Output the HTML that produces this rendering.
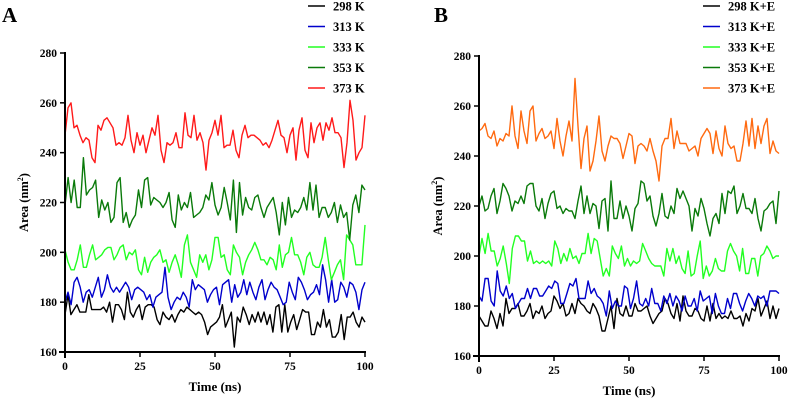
<!DOCTYPE html>
<html><head><meta charset="utf-8"><style>
body{margin:0;background:#fff;}
svg text{font-family:"Liberation Serif",serif;font-weight:bold;}
</style></head><body>
<svg id="chart" width="790" height="400"></svg>
<script>
const tickValsY=[160,180,200,220,240,260,280];
const tickValsX=[0,25,50,75,100];
const labelsA=["298 K","313 K","333 K","353 K","373 K"];
const labelsB=["298 K+E","313 K+E","333 K+E","353 K+E","373 K+E"];
const colorsA=["#000000","#0000cc","#22ff22","#0a7a0a","#ff1a1a"];
const colorsB=["#000000","#0000cc","#22ff22","#0a7a0a","#ff6a10"];
const a298=[175,183,175,177,179,176,176,176,183,177,177,177,177,178,176,180,172,179,179,177,173,184,176,174,177,179,173,178,179,179,178,173,171,176,174,173,175,172,175,177,176,178,177,176,175,176,175,172,167,170,171,172,174,179,170,173,176,162,174,172,178,175,171,175,172,176,172,176,171,175,168,178,179,168,179,168,172,175,169,173,177,176,176,167,167,172,170,177,170,173,166,166,168,175,165,174,174,176,172,170,174,172];
const a313=[180,184,179,188,190,186,180,184,185,182,186,190,182,185,191,186,184,186,184,186,188,186,181,185,186,185,184,181,183,178,182,183,184,194,182,177,180,182,181,184,182,178,189,185,187,186,185,180,183,185,186,179,187,188,189,180,187,182,184,189,183,188,184,181,186,189,181,185,188,186,185,182,179,180,188,184,181,190,188,185,181,183,184,187,183,195,189,180,189,180,181,188,186,182,188,187,184,177,185,188];
const a333=[201,196,193,193,197,203,194,194,199,203,197,198,199,201,202,202,197,199,202,203,197,200,199,201,193,191,198,192,196,198,199,201,196,197,192,196,199,195,190,203,207,196,193,190,199,196,199,193,197,206,206,198,199,193,191,203,200,198,191,196,199,201,204,201,197,197,195,198,197,193,203,194,199,200,206,199,199,196,191,198,200,195,194,194,198,206,197,189,192,195,197,189,207,205,203,195,195,195,211];
const a353=[219,230,220,229,218,218,238,223,225,226,229,214,221,217,220,212,214,228,230,212,216,210,213,215,225,218,229,230,219,222,221,220,218,220,224,213,210,223,217,220,218,224,214,215,216,218,223,221,228,219,215,218,226,220,213,229,208,228,215,222,218,217,222,223,218,214,218,220,222,216,207,220,211,222,214,217,216,218,222,217,228,217,227,214,218,218,214,216,220,212,219,214,216,205,219,223,216,227,225];
const a373=[247,258,260,250,251,247,244,246,245,238,236,251,249,253,254,252,250,243,244,243,246,255,245,240,248,243,247,240,245,250,247,255,241,236,244,243,244,248,242,242,256,247,246,255,245,248,244,233,245,248,253,247,255,242,243,243,249,241,238,247,251,246,247,247,246,245,243,244,242,245,249,253,247,246,240,247,250,237,249,254,241,238,252,244,250,252,245,252,249,254,248,248,246,234,244,261,253,237,240,242,255];
const b298=[176,174,172,172,178,175,171,177,172,183,177,179,179,181,176,176,178,181,175,178,177,180,175,177,178,184,182,179,181,176,177,181,177,183,181,180,178,177,181,179,176,170,170,175,180,171,183,177,176,180,176,176,181,178,178,179,180,176,173,175,177,178,183,181,177,175,181,174,184,178,176,176,179,178,175,174,180,174,181,175,177,175,176,175,178,175,175,176,172,177,174,179,178,183,176,179,182,175,180,175,179];
const b313=[184,182,191,191,182,180,194,186,184,188,183,185,179,181,183,183,187,183,187,187,184,184,186,188,187,190,189,181,181,185,189,188,191,183,183,183,190,185,187,184,183,181,176,186,179,182,180,180,188,187,179,183,190,181,180,183,180,187,181,181,178,184,181,185,180,184,182,178,184,180,180,183,178,186,182,183,184,177,185,180,177,177,183,179,185,185,181,178,182,185,183,180,184,183,184,180,186,186,186,185];
const b333=[200,207,201,209,202,202,196,199,204,197,189,203,208,208,206,206,198,202,197,198,197,198,197,198,196,206,203,197,201,198,203,199,200,197,201,201,209,201,207,206,199,192,195,192,204,201,199,204,196,199,196,198,197,198,205,202,199,197,196,196,196,192,203,198,203,197,200,195,193,202,192,193,200,206,191,196,192,194,199,195,194,194,202,205,202,200,194,203,193,193,199,199,192,200,201,204,202,199,200,200];
const b353=[220,224,218,219,224,227,217,222,229,227,224,218,222,221,224,221,228,229,229,220,218,223,215,221,225,226,219,220,217,219,218,218,215,222,228,217,224,217,221,220,211,222,223,210,230,215,215,222,215,220,216,210,219,221,230,229,222,224,216,212,217,225,216,215,220,217,227,223,226,223,220,210,219,216,223,219,213,208,215,217,213,225,217,226,225,228,217,220,225,219,219,217,223,215,210,218,219,221,222,213,226];
const b373=[250,251,253,248,247,250,244,247,246,249,248,260,248,243,258,250,245,258,260,246,249,251,247,248,250,243,255,246,240,248,254,246,271,252,235,247,252,234,238,246,256,242,238,244,248,247,247,245,239,244,249,248,237,244,245,244,242,247,242,238,230,244,247,247,255,243,250,245,245,245,242,243,244,240,247,249,251,249,241,250,243,240,252,245,243,244,238,238,245,254,244,255,243,252,245,252,255,241,246,242,241];

const NS="http://www.w3.org/2000/svg";
const svg=document.getElementById('chart');
function mk(tag,attrs,parent){const e=document.createElementNS(NS,tag);for(const k in attrs)e.setAttribute(k,attrs[k]);(parent||svg).appendChild(e);return e;}

function panel(p){
  const g=mk('g',{});
  
  
  const xs=v=>p.x0+(v/100)*(p.x1-p.x0);
  const ys=v=>p.y1-(v-160)/120*(p.y1-p.y0);
  // letter
  const L=mk('text',{x:p.lx,y:22,'font-size':21},g);L.textContent=p.id;
  
  
  // series
  p.series.forEach((s,k)=>{
    const n=s.length;
    const pts=s.map((v,i)=>xs(i*100/(n-1)).toFixed(1)+','+ys(v).toFixed(1)).join(' ');
    const pl=mk('polyline',{points:pts,fill:'none',stroke:p.colors[k],'stroke-width':1.4,'stroke-linejoin':'round'},g);
    
    
  });
  // axes
  const ya=mk('line',{x1:p.x0,y1:p.y0-1,x2:p.x0,y2:p.y1+6,stroke:'#000','stroke-width':2},g);
  
  
  const xa=mk('line',{x1:p.x0-6,y1:p.y1,x2:p.x1+1,y2:p.y1,stroke:'#000','stroke-width':2},g);
  
  
  tickValsY.forEach(v=>{
    mk('line',{x1:p.x0-5,y1:ys(v),x2:p.x0,y2:ys(v),stroke:'#000','stroke-width':1.5},g);
    const t=mk('text',{x:p.x0-8,y:ys(v)+4,'font-size':11.5,'text-anchor':'end'},g);t.textContent=v;
    
    
  });
  tickValsX.forEach(v=>{
    mk('line',{x1:xs(v),y1:p.y1,x2:xs(v),y2:p.y1+5,stroke:'#000','stroke-width':1.5},g);
    const t=mk('text',{x:xs(v),y:p.y1+18,'font-size':11.5,'text-anchor':'middle'},g);t.textContent=v;
    
    
  });
  const xt=mk('text',{x:(p.x0+p.x1)/2,y:p.y1+39,'font-size':13,'text-anchor':'middle'},g);xt.textContent='Time (ns)';
  
  
  const cy=(p.y0+p.y1)/2;
  const yt=mk('text',{x:p.x0-37,y:cy,'font-size':12.5,'text-anchor':'middle',transform:`rotate(-90 ${p.x0-37} ${cy})`},g);
  yt.innerHTML='Area (nm<tspan font-size="8" dy="-5">2</tspan><tspan dy="5">)</tspan>';
  
  
  // legend
  p.labels.forEach((lab,k)=>{
    const y=6+k*20.5;
    const e=mk('g',{},g);
    
    
    mk('line',{x1:p.legx,y1:y,x2:p.legx+17,y2:y,stroke:p.colors[k],'stroke-width':1.6},e);
    const t=mk('text',{x:p.legx+25,y:y+4.5,'font-size':12.5},e);t.textContent=lab;
  });
}
panel({id:'A',x0:65,x1:365,y0:53,y1:352,lx:2,legx:308,labels:labelsA,colors:colorsA,series:[a298,a313,a333,a353,a373]});
panel({id:'B',x0:479,x1:779,y0:56,y1:356,lx:434,legx:703,labels:labelsB,colors:colorsB,series:[b298,b313,b333,b353,b373]});
</script>
</body></html>
